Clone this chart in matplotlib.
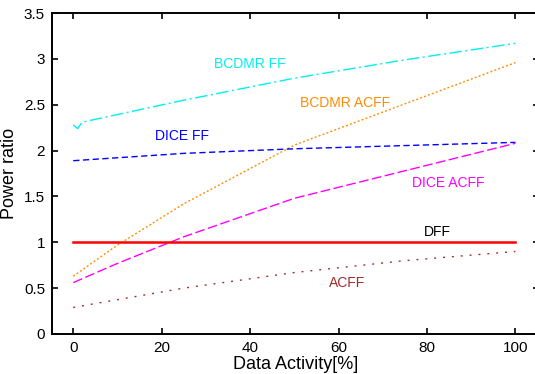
import matplotlib
matplotlib.use('Agg')
import matplotlib.pyplot as plt

plt.rcParams['font.family'] = ['Liberation Sans', 'DejaVu Sans']

# power ratio vs data activity for each flip-flop type
x_bcdmr_ff = [0, 1, 2, 25, 50, 75, 100]
bcdmr_ff = [2.28, 2.24, 2.31, 2.55, 2.79, 2.99, 3.17]

x_bcdmr_acff = [0, 10, 25, 50, 75, 100]
bcdmr_acff = [0.63, 0.97, 1.42, 2.06, 2.51, 2.96]

x_dice_ff = [0, 25, 50, 100]
dice_ff = [1.89, 1.97, 2.02, 2.09]

x_dice_acff = [0, 10, 25, 50, 75, 100]
dice_acff = [0.56, 0.77, 1.06, 1.48, 1.78, 2.08]

x_dff = [0, 100]
dff = [1.0, 1.0]

x_acff = [0, 25, 50, 75, 100]
acff = [0.29, 0.50, 0.67, 0.80, 0.90]

fig = plt.figure(figsize=(5.35, 3.74), dpi=100)
# right edge of the box sits just past the figure border
ax = fig.add_axes([0.0972, 0.107, 0.91, 0.858])

ax.plot(x_bcdmr_ff, bcdmr_ff, color='#00f0f0', lw=1.0, dashes=[9, 2.5, 1.5, 2.5])
ax.plot(x_bcdmr_acff, bcdmr_acff, color='#ff8c00', lw=1.0, dashes=[1.4, 1.6])
ax.plot(x_dice_ff, dice_ff, color='#0000ff', lw=1.0, dashes=[4.5, 2.5])
ax.plot(x_dice_acff, dice_acff, color='#ff00ff', lw=1.0, dashes=[7, 2.5])
ax.plot(x_dff, dff, color='#ff0000', lw=1.8)
ax.plot(x_acff, acff, color='#a52a2a', lw=1.0, dashes=[1.4, 5])

lbl = dict(fontsize=10, ha='center', va='center')
ax.text(40, 2.94, 'BCDMR FF', color='#00f0f0', **lbl)
ax.text(61.5, 2.52, 'BCDMR ACFF', color='#ff8c00', **lbl)
ax.text(24.7, 2.16, 'DICE FF', color='#0000ff', **lbl)
ax.text(84.8, 1.65, 'DICE ACFF', color='#ff00ff', **lbl)
ax.text(82.4, 1.11, 'DFF', color='black', **lbl)
ax.text(62, 0.56, 'ACFF', color='#a52a2a', **lbl)

ax.set_xlim(-4.8, 105.3)
ax.set_ylim(0, 3.5)
ax.set_xticks([0, 20, 40, 60, 80, 100])
ax.set_yticks([0, 0.5, 1, 1.5, 2, 2.5, 3, 3.5])
ax.set_yticklabels(['0', '0.5', '1', '1.5', '2', '2.5', '3', '3.5'])
ax.tick_params(direction='in', top=True, right=True, length=4, width=1.2,
               labelsize=11, pad=5)
for s in ax.spines.values():
    s.set_linewidth(1.4)

ax.set_xlabel('Data Activity[%]', fontsize=13, labelpad=0.5)
ax.set_ylabel('Power ratio', fontsize=13, labelpad=4)

fig.savefig('out.png', dpi=100)
